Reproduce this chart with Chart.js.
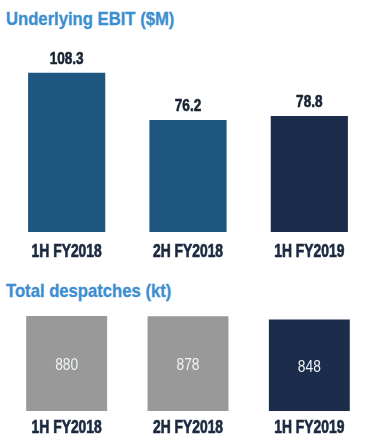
<!DOCTYPE html>
<html>
<head>
<meta charset="utf-8">
<script src="https://cdn.jsdelivr.net/npm/chart.js@4/dist/chart.umd.min.js"></script>
<style>
  html, body { margin: 0; padding: 0; background: #fff; overflow: hidden; }
  body { width: 366px; height: 442px; position: relative; }
  .title {
    position: absolute; left: 6px;
    font-family: "Liberation Sans", Arial, sans-serif;
    font-weight: bold; font-size: 18.5px; line-height: 1; color: #3b8ed0;
    -webkit-text-stroke: 0.3px #3b8ed0;
    white-space: nowrap; transform: scaleX(0.9); transform-origin: 0 0;
  }
  canvas { position: absolute; left: 0; }
</style>
</head>
<body>
<div class="title" id="title-ebit" style="top:10.4px">Underlying EBIT ($M)</div>
<canvas id="chart-ebit" width="370" height="240" style="top:30px"></canvas>
<div class="title" id="title-desp" style="top:281.7px">Total despatches (kt)</div>
<canvas id="chart-desp" width="370" height="146" style="top:296px"></canvas>
<script>
// ---------- data ----------
const periods = ["1H FY2018", "2H FY2018", "1H FY2019"];
const ebit = [108.3, 76.2, 78.8];
const despatches = [880, 878, 848];

const FONT = "'Liberation Sans', Arial, sans-serif";
const LABEL = "#1b2a40";
const BLUE = "#1f5680";
const NAVY = "#1b2d4b";
const GREY = "#999999";

const $ = (id) => document.getElementById(id);

// condensed look: squeeze the text horizontally around its anchor
function narrowText(ctx, text, x, y, sx, stroke) {
  ctx.save();
  ctx.translate(x, y);
  ctx.scale(sx, 1);
  ctx.fillText(text, 0, 0);
  if (stroke) {
    ctx.strokeStyle = ctx.fillStyle;
    ctx.lineWidth = stroke;
    ctx.strokeText(text, 0, 0);
  }
  ctx.restore();
}

// bar values (above or inside) and period names under each bar
const barText = {
  id: "barText",
  afterDatasetsDraw(chart, args, opts) {
    const ctx = chart.ctx;
    const meta = chart.getDatasetMeta(0);
    const data = chart.data.datasets[0].data;
    const xs = chart.scales.x;
    ctx.save();
    ctx.textAlign = "center";
    ctx.textBaseline = "alphabetic";
    meta.data.forEach((bar, i) => {
      const v = opts.value;
      ctx.font = v.font;
      ctx.fillStyle = v.color;
      const y = v.inside ? (bar.y + bar.base) / 2 + 6.5 : bar.y - 9;
      narrowText(ctx, v.format(data[i]), bar.x, y, v.sx, v.stroke);

      const c = opts.category;
      ctx.font = c.font;
      ctx.fillStyle = c.color;
      narrowText(ctx, chart.data.labels[i], xs.getPixelForValue(i), bar.base + c.offset, c.sx, c.stroke);
    });
    ctx.restore();
  },
};

function barChart(id, values, colors, cfg) {
  return new Chart($(id), {
    type: "bar",
    data: {
      labels: periods,
      datasets: [{
        data: values,
        backgroundColor: colors,
        barPercentage: cfg.barPct,
        categoryPercentage: 1,
      }],
    },
    options: {
      responsive: false,
      animation: false,
      layout: { padding: cfg.padding },
      plugins: {
        legend: { display: false },
        tooltip: { enabled: false },
        barText: cfg.text,
      },
      scales: {
        x: { display: false },
        y: { display: false, min: 0, max: cfg.max },
      },
    },
    plugins: [barText],
  });
}

const category = { font: `bold 18px ${FONT}`, color: LABEL, sx: 0.77, offset: 24.5, stroke: 0.7 };

// ---------- charts ----------
barChart("chart-ebit", ebit, [BLUE, BLUE, NAVY], {
  barPct: 0.636,
  max: 130,
  padding: { top: 10.8, left: 6, right: 0, bottom: 38 },
  text: {
    value: { font: `bold 17px ${FONT}`, color: "#1a2433", sx: 0.8, stroke: 0.6, format: (v) => v.toFixed(1) },
    category,
  },
});

barChart("chart-desp", despatches, [GREY, GREY, NAVY], {
  barPct: 0.667,
  max: 1000,
  padding: { top: 7, left: 6, right: 0, bottom: 31 },
  text: {
    value: { font: `17px ${FONT}`, color: "#eef2f6", sx: 0.81, inside: true, format: (v) => String(v) },
    category: { ...category, offset: 22 },
  },
});
</script>
</body>
</html>
